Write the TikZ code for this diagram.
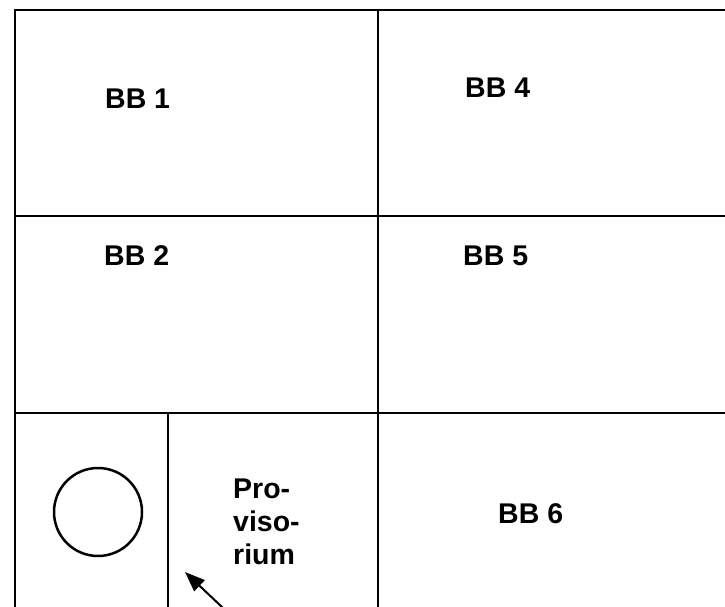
\documentclass[tikz,border=0pt]{standalone}
\usepackage{fontspec}
\setmainfont{Liberation Sans}
\usetikzlibrary{arrows.meta}
\begin{document}
\begin{tikzpicture}[x=1pt,y=1pt,
  grid/.style={line width=2.8pt, line cap=rect},
  lbl/.style={font=\bfseries\fontsize{28.5}{33}\selectfont, inner sep=0pt, anchor=base west},
  ring/.style={draw, circle, line width=2.5pt, minimum size=88pt, inner sep=0pt},
  pointer/.style={line width=2pt, -{Triangle[length=20pt,width=15pt]}}]
\useasboundingbox (0,0) rectangle (725,606);
\clip (0,0) rectangle (725,606);
% grid
\draw[grid] (740,596) -- (15,596) -- (15,-20);
\draw[grid] (378,596) -- (378,-20);
\draw[grid] (15,390) -- (740,390);
\draw[grid] (15,193) -- (740,193);
\draw[grid] (168,193) -- (168,-20);
% labels
\node[lbl] (bb1) at (105,497) {BB 1};
\node[lbl] (bb4) at (465,508) {BB 4};
\node[lbl] (bb2) at (104,341) {BB 2};
\node[lbl] (bb5) at (463,341) {BB 5};
\node[lbl] (bb6) at (498,83) {BB 6};
\node[lbl, anchor=north west, align=left] (prov) at (233,127) {Pro-\\viso-\\rium};
% circle
\node[ring] (ring) at (98,94) {};
% arrow
\coordinate (atail) at (242,-20);
\coordinate (ahead) at (185,34);
\draw[pointer] (atail) -- (ahead);
\end{tikzpicture}
\end{document}
